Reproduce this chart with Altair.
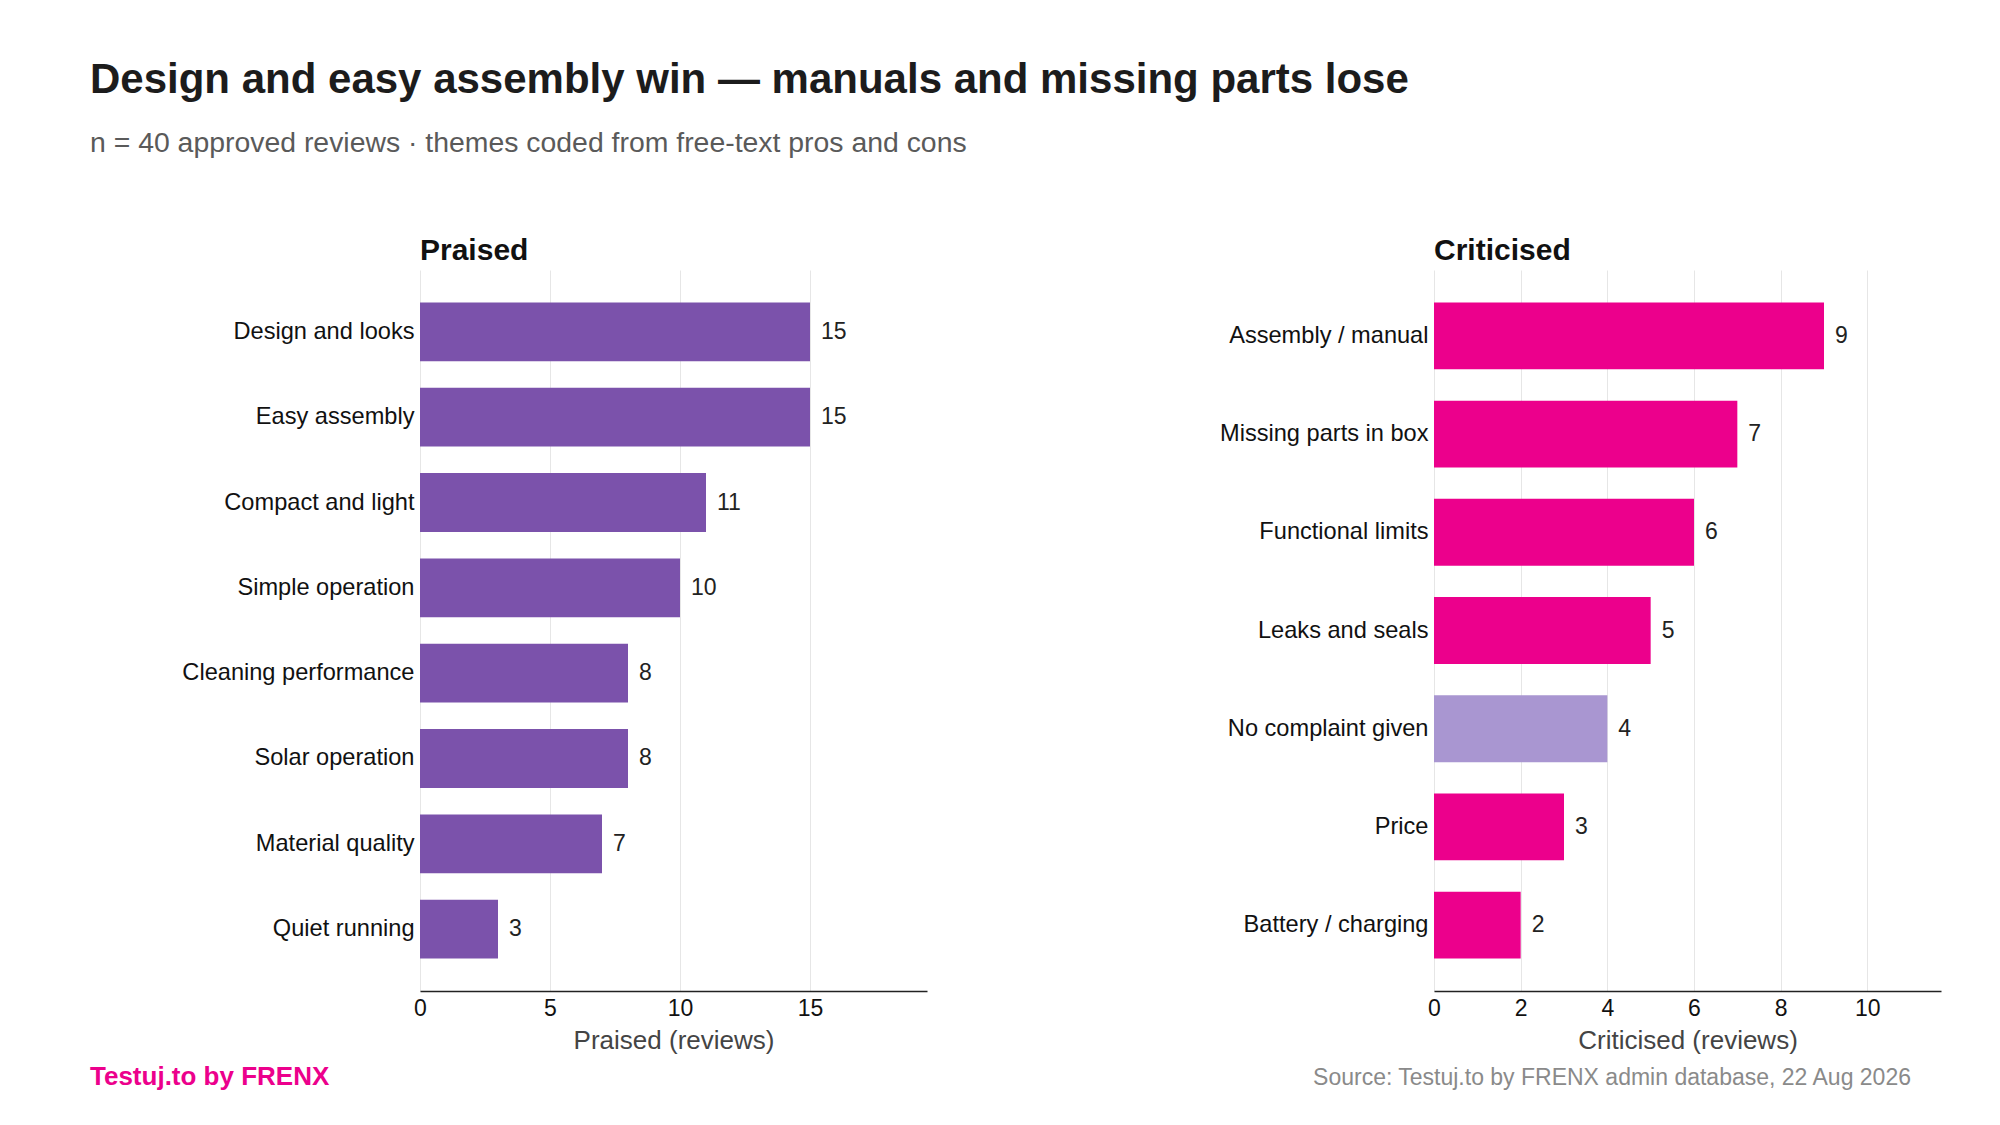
import altair as alt
import pandas as pd

praised_themes = ["Design and looks", "Easy assembly", "Compact and light", "Simple operation",
                  "Cleaning performance", "Solar operation", "Material quality", "Quiet running"]
praised_counts = [15, 15, 11, 10, 8, 8, 7, 3]

crit_themes = ["Assembly / manual", "Missing parts in box", "Functional limits", "Leaks and seals",
               "No complaint given", "Price", "Battery / charging"]
crit_counts = [9, 7, 6, 5, 4, 3, 2]
neutral_theme = "No complaint given"

title_text = "Design and easy assembly win \u2014 manuals and missing parts lose"
subtitle_text = "n = 40 approved reviews \u00b7 themes coded from free-text pros and cons"
brand_text = "Testuj.to by FRENX"
source_text = "Source: Testuj.to by FRENX admin database, 22 Aug 2026"

PURPLE = "#7B52AB"
PINK = "#EC008C"
LIGHT = "#A996D1"
FONT = "Liberation Sans"

df_p = pd.DataFrame({"theme": praised_themes, "count": praised_counts})
df_c = pd.DataFrame({"theme": crit_themes, "count": crit_counts})

W, H = 507, 721


def panel(df, name, xmax, ticks, color_enc, extra_text, min_extent, pin, pout):
    y = alt.Y("theme:N", sort=None, title=None,
              scale=alt.Scale(paddingInner=pin, paddingOuter=pout),
              axis=alt.Axis(labelFontSize=23.6, labelColor="#111", ticks=False, domain=False,
                            labelPadding=6, labelLimit=400, minExtent=min_extent))
    x = alt.X("count:Q", title=f"{name} (reviews)",
              scale=alt.Scale(domain=[0, xmax], nice=False),
              axis=alt.Axis(values=ticks, labelFontSize=23, labelColor="#111", titleFontSize=26,
                            titleColor="#444", titleFontWeight="normal", ticks=False,
                            domainColor="#222", domainWidth=1.6, gridColor="#e6e6e6",
                            labelPadding=6, titlePadding=7, labelFlush=False))
    bars = alt.Chart(df).mark_bar().encode(y=y, x=x, color=color_enc)
    labels = alt.Chart(df).mark_text(align="left", baseline="middle", dx=11, fontSize=23,
                                     color="#222", font=FONT).encode(
        y=alt.Y("theme:N", sort=None), x="count:Q", text="count:Q")
    return alt.layer(bars, labels, *extra_text).properties(
        width=W, height=H,
        title=alt.TitleParams(name, anchor="start", frame="group", fontSize=30,
                              fontWeight="bold", color="#111", offset=4))


brand = alt.Chart(pd.DataFrame({"t": [brand_text]})).mark_text(
    align="left", baseline="alphabetic", fontSize=26, fontWeight="bold", color=PINK, font=FONT
).encode(x=alt.value(-330), y=alt.value(815), text="t:N")

source = alt.Chart(pd.DataFrame({"t": [source_text]})).mark_text(
    align="right", baseline="alphabetic", fontSize=23, color="#8a8a8a", font=FONT
).encode(x=alt.value(477), y=alt.value(815), text="t:N")

left = panel(df_p, "Praised", 19.5, [0, 5, 10, 15], alt.value(PURPLE), [brand], 330, 0.31, 0.38)
right = panel(
    df_c, "Criticised", 11.7, [0, 2, 4, 6, 8, 10],
    alt.condition(alt.datum.theme == neutral_theme, alt.value(LIGHT), alt.value(PINK)),
    [source], 0, 0.32, 0.33)

chart = alt.hconcat(left, right, spacing=292).properties(
    title=alt.TitleParams(title_text, subtitle=subtitle_text, anchor="start", fontSize=42,
                          fontWeight="bold", color="#1c1c1c", subtitleFontSize=28.4,
                          subtitleColor="#5a5a5a", subtitlePadding=28, offset=78,
                          font=FONT, subtitleFont=FONT),
    padding={"left": 82, "top": 50, "right": 20, "bottom": 10},
).configure(font=FONT).configure_view(stroke=None).configure_axisY(grid=False)

chart.save("out.html", embed_options={"renderer": "svg", "actions": False})
